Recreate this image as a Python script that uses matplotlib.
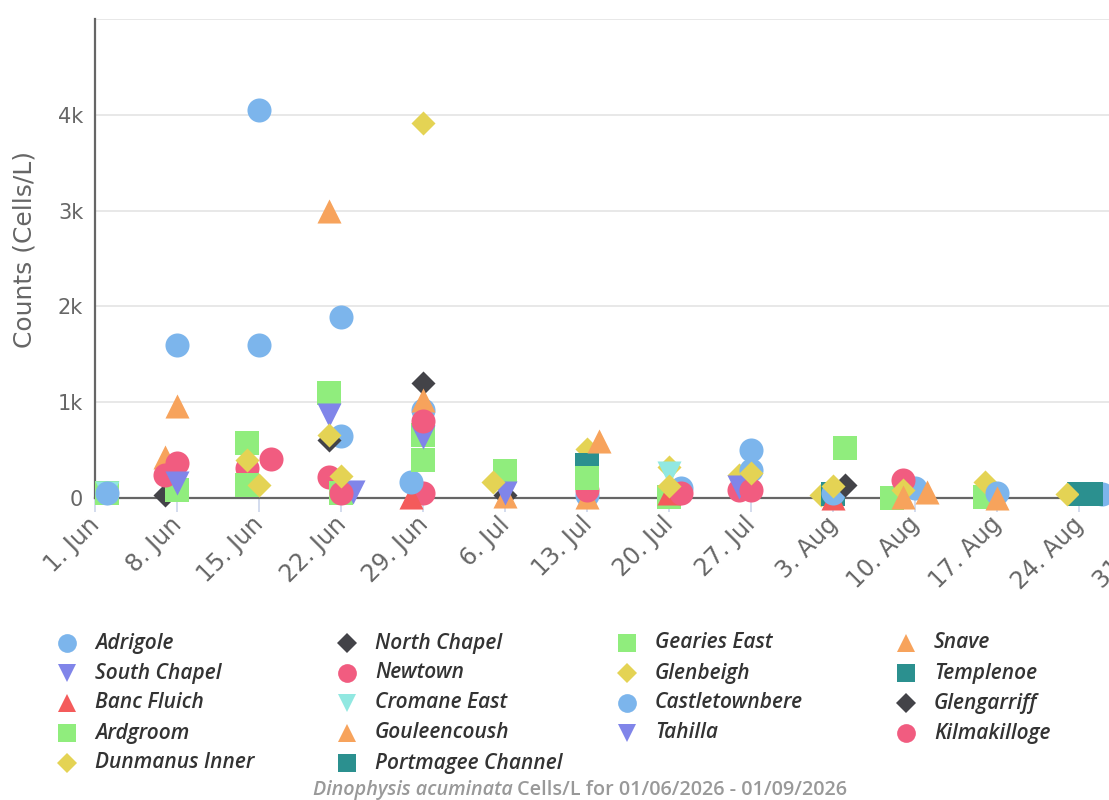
import numpy as np
import matplotlib
matplotlib.use("Agg")
import matplotlib.pyplot as plt
from matplotlib.lines import Line2D
from matplotlib.ticker import FuncFormatter
from matplotlib.transforms import ScaledTranslation

# sample date (2026-MM-DD) and count in cells/L, per site
adrigole = [("06-08", 1600), ("06-15", 4050), ("06-22", 650), ("06-29", 920),
            ("07-13", 30), ("07-27", 500), ("08-10", 100)]
north_chapel = [("06-07", 30), ("06-21", 610), ("07-06", 30)]
gearies_east = [("06-02", 50), ("06-08", 80), ("06-14", 570), ("06-21", 1100),
                ("06-29", 660), ("07-06", 280), ("07-20", 15), ("08-08", 0),
                ("08-16", 15)]
snave = [("06-07", 430), ("06-21", 3000), ("07-06", 20), ("07-13", 10), ("08-11", 65)]
south_chapel = [("06-21", 870), ("07-06", 50)]
newtown = [("06-07", 240), ("06-08", 365), ("06-14", 310), ("06-21", 215),
           ("06-29", 50), ("07-13", 85), ("07-26", 85), ("08-09", 190)]
glenbeigh = [("06-14", 400), ("06-21", 660), ("06-29", 3915), ("07-05", 170),
             ("07-13", 510), ("07-20", 320), ("07-26", 240), ("08-02", 30),
             ("08-09", 85), ("08-16", 170)]
templenoe = [("07-13", 345), ("08-03", 40), ("08-24", 40)]
banc_fluich = [("06-28", 15), ("07-20", 50), ("08-03", 0)]
cromane_east = [("06-02", 50), ("07-20", 260)]
castletownbere = [("06-02", 50), ("06-15", 1600), ("06-22", 1890), ("06-28", 170),
                  ("07-21", 100), ("07-27", 290), ("08-03", 50), ("08-17", 50),
                  ("08-26", 40)]
glengarriff = [("06-29", 1200), ("08-04", 135)]
ardgroom = [("06-14", 140), ("06-22", 50), ("06-29", 400), ("07-13", 205), ("08-04", 525)]
gouleencoush = [("06-08", 960), ("06-29", 1025), ("07-14", 590), ("08-09", 10), ("08-17", 0)]
tahilla = [("06-08", 155), ("06-23", 65), ("06-29", 640), ("07-26", 120)]
kilmakilloge = [("06-16", 405), ("06-22", 50), ("06-29", 800), ("07-21", 50), ("07-27", 85)]
dunmanus_inner = [("06-15", 140), ("06-22", 225), ("07-20", 125), ("07-27", 260),
                  ("08-03", 125), ("08-23", 40)]
portmagee_channel = [("08-25", 40)]

sites = [
    ("Adrigole", adrigole), ("North Chapel", north_chapel),
    ("Gearies East", gearies_east), ("Snave", snave),
    ("South Chapel", south_chapel), ("Newtown", newtown),
    ("Glenbeigh", glenbeigh), ("Templenoe", templenoe),
    ("Banc Fluich", banc_fluich), ("Cromane East", cromane_east),
    ("Castletownbere", castletownbere), ("Glengarriff", glengarriff),
    ("Ardgroom", ardgroom), ("Gouleencoush", gouleencoush),
    ("Tahilla", tahilla), ("Kilmakilloge", kilmakilloge),
    ("Dunmanus Inner", dunmanus_inner), ("Portmagee Channel", portmagee_channel),
]

colors = ["#7cb5ec", "#434348", "#90ed7d", "#f7a35c", "#8085e9",
          "#f15c80", "#e4d354", "#2b908f", "#f45b5b", "#91e8e1"]
markers = ["o", "D", "s", "^", "v"]
# scatter sizes (pt^2) so every symbol fills a ~24 px box
sizes = {"o": 300, "D": 150, "s": 300, "^": 300, "v": 300}

caption_species = "Dinophysis acuminata"
caption_rest = " Cells/L for 01/06/2026 - 01/09/2026"

plt.rcParams["font.family"] = ["Open Sans", "DejaVu Sans"]
axis_font = "DejaVu Sans"

fig = plt.figure(figsize=(11.09, 8.0), dpi=100)
W, H = 1109.0, 800.0
px_day = 82 / 7.0
ax = fig.add_axes([95 / W, (H - 498) / H, 92 * px_day / W, (498 - 19) / H])

for i, (name, pts) in enumerate(sites):
    m = markers[i % len(markers)]
    dates = np.array(["2026-" + p[0] for p in pts], dtype="datetime64[D]")
    vals = [p[1] for p in pts]
    ax.scatter(dates, vals, marker=m, s=sizes[m], color=colors[i % len(colors)],
               linewidths=0, clip_on=False, zorder=3 + i)

ax.set_xlim(np.datetime64("2026-06-01"), np.datetime64("2026-09-01"))
ax.set_ylim(0, 5000)

ax.grid(axis="y", color="#e6e6e6", linewidth=1.3)
ax.set_axisbelow(True)
for s in ["top", "right"]:
    ax.spines[s].set_visible(False)
for s in ["left", "bottom"]:
    ax.spines[s].set_color("#666666")
    ax.spines[s].set_linewidth(1.6)
    ax.spines[s].set_zorder(2)

ticks = np.arange(np.datetime64("2026-06-01"), np.datetime64("2026-09-01"),
                  np.timedelta64(7, "D"))
ax.set_xticks(ticks)
ax.set_yticks(np.arange(0, 5001, 1000))
# tick_params first: changing pad later resets the label transforms
ax.tick_params(axis="x", colors="#ccd6eb", length=10, width=1.2, pad=10,
               labelcolor="#666666", labelsize=17)
ax.tick_params(axis="y", length=0, pad=8.5, labelcolor="#666666", labelsize=15)

ax.set_xticklabels([f"{t.astype(object).day}. {t.astype(object).strftime('%b')}"
                    for t in ticks], rotation=45, ha="right", va="baseline",
                   rotation_mode="anchor", family=axis_font)
shift = ScaledTranslation(6 / 100, 0, fig.dpi_scale_trans)
for lab in ax.get_xticklabels():
    lab.set_transform(lab.get_transform() + shift)

ax.yaxis.set_major_formatter(FuncFormatter(
    lambda v, p: "" if v >= 5000 else ("0" if v == 0 else f"{int(v / 1000)}k")))
for lab in ax.get_yticklabels():
    lab.set_family(axis_font)

fig.text(25 / W, 1 - 250 / H, "Counts (Cells/L)", rotation=90, fontsize=18,
         family=axis_font, color="#666666", ha="center", va="center")

# legend laid out row by row, four columns
col_x = [67, 347, 627, 906]
row_y = [643, 673, 703, 733, 763]
leg_sizes = {"o": 13.5, "D": 10, "s": 13, "^": 13.5, "v": 13.5}
for i, (name, pts) in enumerate(sites):
    r, c = divmod(i, 4)
    m = markers[i % len(markers)]
    x, y = col_x[c] / W, 1 - row_y[r] / H
    fig.add_artist(Line2D([x], [y], transform=fig.transFigure, marker=m,
                          markersize=leg_sizes[m], color=colors[i % len(colors)],
                          markeredgewidth=0, linestyle="none"))
    fig.text(x + 28 / W, y, name, fontsize=15, style="italic", weight="semibold",
             color="#333333", va="center", ha="left")

renderer = fig.canvas.get_renderer()
t1 = fig.text(0, 1 - 790 / H, caption_species, fontsize=14.2, style="italic",
              weight="semibold", color="#999999", va="center", ha="left")
t2 = fig.text(0, 1 - 790 / H, caption_rest, fontsize=14.2, weight="semibold",
              color="#999999", va="center", ha="left")
w1 = t1.get_window_extent(renderer).width
w2 = t2.get_window_extent(renderer).width
x0 = 580 - (w1 + w2) / 2
t1.set_x(x0 / W)
t2.set_x((x0 + w1) / W)

fig.savefig("out.png", dpi=100)
